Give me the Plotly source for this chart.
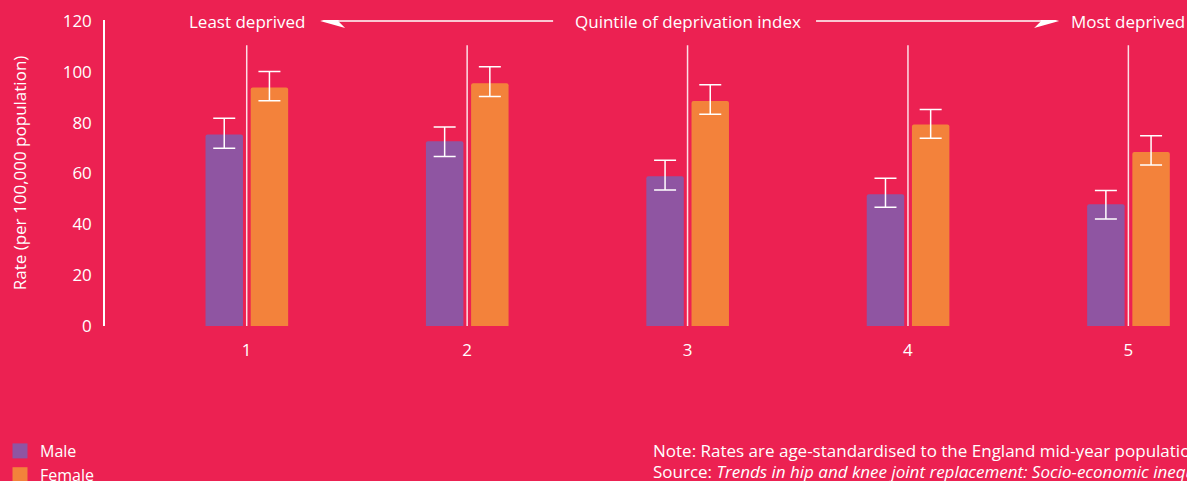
import plotly.graph_objects as go

# ---- data ----
quintiles = [1, 2, 3, 4, 5]
quintile_labels = ["1", "2", "3", "4", "5"]
male_rate = [75.3, 72.7, 58.9, 51.8, 47.9]
male_upper = [81.7, 78.3, 65.2, 58.1, 53.3]
male_lower = [69.9, 66.7, 53.5, 46.7, 42.1]
female_rate = [93.8, 95.5, 88.5, 79.3, 68.5]
female_upper = [100.1, 102.0, 94.9, 85.2, 74.9]
female_lower = [88.6, 90.3, 83.3, 73.9, 63.3]
y_ticks = [0, 20, 40, 60, 80, 100, 120]

# ---- style / layout constants ----
BG = "#EC2152"
PURPLE = "#8F55A2"
ORANGE = "#F3823B"
WHITE = "#FFFFFF"
FONT = "Open Sans"
BAR_W = 0.17
divider_top = 110.5
W, H = 1187, 481
PLOT_LEFT, PLOT_TOP, PLOT_BOTTOM = 105, 20, 326
X_RANGE = [0.357, 5.266]
Y_RANGE = [0, 120.4]
PX_PER_X = (W - PLOT_LEFT) / (X_RANGE[1] - X_RANGE[0])
PX_PER_Y = (PLOT_BOTTOM - PLOT_TOP) / (Y_RANGE[1] - Y_RANGE[0])


def py(pix):
    """pixel row -> paper y"""
    return (PLOT_BOTTOM - pix) / (PLOT_BOTTOM - PLOT_TOP)


def head_path(tip_x, tip_y, direction):
    """notched arrowhead, sized in pixels, expressed in data units"""
    L, N, Hh = 25 / PX_PER_X, 18 / PX_PER_X, 7 / PX_PER_Y
    d = direction
    pts = [(tip_x, tip_y), (tip_x + d * L, tip_y + Hh), (tip_x + d * N, tip_y),
           (tip_x + d * L, tip_y - Hh)]
    return "M" + " L".join(f"{a:.4f},{b:.4f}" for a, b in pts) + " Z"


fig = go.Figure()

series = [("Male", male_rate, male_upper, male_lower, PURPLE, -0.187),
          ("Female", female_rate, female_upper, female_lower, ORANGE, 0.018)]

for name, rate, upper, lower, color, offset in series:
    fig.add_trace(go.Bar(
        x=quintiles, y=rate, name=name, legendgroup=name, showlegend=False,
        width=BAR_W, offset=offset,
        marker=dict(color=color, line=dict(width=0), cornerradius=2),
        error_y=dict(type="data", symmetric=False,
                     array=[u - v for u, v in zip(upper, rate)],
                     arrayminus=[v - l for v, l in zip(rate, lower)],
                     color=WHITE, thickness=1.5, width=11),
    ))
# legend keys (square swatches)
for name, rate, upper, lower, color, offset in series:
    fig.add_trace(go.Scatter(
        x=[None], y=[None], mode="markers", name=name, legendgroup=name,
        marker=dict(symbol="square", size=15, color=color, line=dict(width=0)),
        hoverinfo="skip",
    ))

# divider lines at each quintile
for q in quintiles:
    fig.add_shape(type="line", xref="x", yref="y", x0=q, x1=q, y0=0, y1=divider_top,
                  line=dict(color="rgba(255,255,255,0.85)", width=1.5), layer="above")

# top header texts
header_font = dict(family=FONT, size=17, color=WHITE)
for q, label in [(quintiles[0], "Least deprived"),
                 (quintiles[2], "Quintile of deprivation index"),
                 (quintiles[4], "Most deprived")]:
    fig.add_annotation(x=q, y=120, xref="x", yref="y", text=label,
                       showarrow=False, font=header_font, xanchor="center", yanchor="middle")

# arrows (shaft + notched head)
ARROW_Y = 120
left_tip, left_tail = 1.333, 2.39
right_tail, right_tip = 3.583, 4.686
fig.add_shape(type="line", xref="x", yref="y", x0=left_tip + 0.06, x1=left_tail,
              y0=ARROW_Y, y1=ARROW_Y, line=dict(color=WHITE, width=1.5))
fig.add_shape(type="line", xref="x", yref="y", x0=right_tail, x1=right_tip - 0.06,
              y0=ARROW_Y, y1=ARROW_Y, line=dict(color=WHITE, width=1.5))
fig.add_shape(type="path", xref="x", yref="y", path=head_path(left_tip, ARROW_Y, 1),
              fillcolor=WHITE, line=dict(width=0))
fig.add_shape(type="path", xref="x", yref="y", path=head_path(right_tip, ARROW_Y, -1),
              fillcolor=WHITE, line=dict(width=0))

# note and source
note_font = dict(family=FONT, size=17, color=WHITE)
fig.add_annotation(
    x=(651 - PLOT_LEFT) / (W - PLOT_LEFT), y=py(451), xref="paper", yref="paper",
    xanchor="left", yanchor="middle", align="left", showarrow=False,
    text="Note: Rates are age-standardised to the England mid-year population",
    font=note_font,
)
fig.add_annotation(
    x=(651 - PLOT_LEFT) / (W - PLOT_LEFT), y=py(471), xref="paper", yref="paper",
    xanchor="left", yanchor="middle", align="left", showarrow=False,
    text=("Source: <i>Trends in hip and knee joint replacement: "
          "Socio-economic inequalities and projections of need</i>"),
    font=note_font,
)

fig.update_layout(
    width=W, height=H,
    margin=dict(l=PLOT_LEFT, r=0, t=PLOT_TOP, b=H - PLOT_BOTTOM, autoexpand=False),
    paper_bgcolor=BG, plot_bgcolor=BG,
    font=dict(family=FONT, color=WHITE, size=16),
    barmode="overlay",
    showlegend=True,
    legend=dict(x=-PLOT_LEFT / (W - PLOT_LEFT), y=py(434), xanchor="left", yanchor="top",
                orientation="v", bgcolor="rgba(0,0,0,0)", borderwidth=0,
                font=dict(family=FONT, size=16, color=WHITE), tracegroupgap=0,
                itemclick=False, itemdoubleclick=False),
    xaxis=dict(range=X_RANGE, tickmode="array", tickvals=quintiles,
               ticktext=quintile_labels, showgrid=False, zeroline=False, showline=False,
               ticks="", tickfont=dict(family=FONT, size=17, color=WHITE),
               ticklabelstandoff=12),
    yaxis=dict(range=Y_RANGE, tickmode="array", tickvals=y_ticks,
               showgrid=False, zeroline=False, showline=True, linecolor=WHITE, linewidth=1.5,
               ticks="", tickfont=dict(family=FONT, size=17, color=WHITE),
               ticklabelstandoff=8,
               title=dict(text="Rate (per 100,000 population)",
                          font=dict(family=FONT, size=17, color=WHITE), standoff=32)),
)

fig.write_html("out.html", config={"displayModeBar": False},
               post_script="document.body.style.margin='0';document.body.style.overflow='hidden';")
